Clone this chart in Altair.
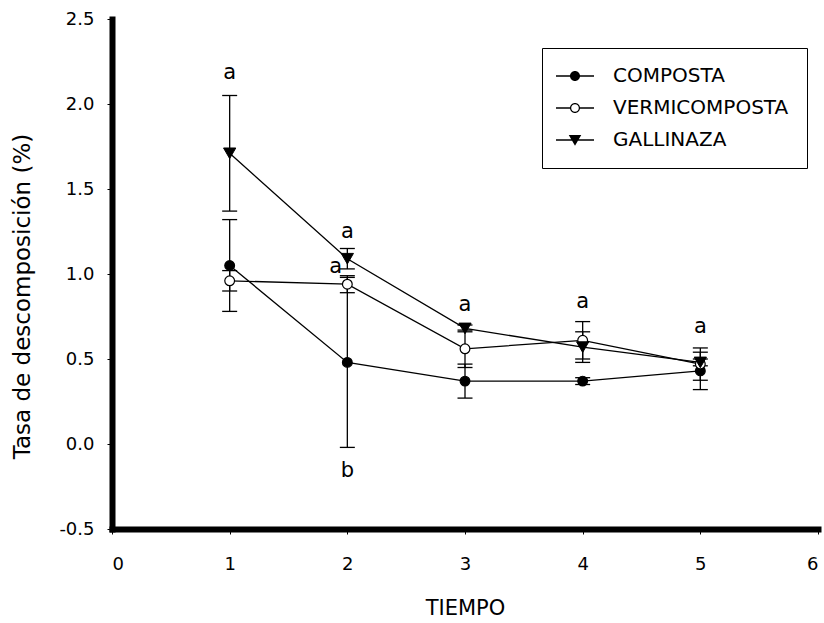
import altair as alt
import pandas as pd

# ---- data ----
tiempo = [1, 2, 3, 4, 5]
series = ["COMPOSTA", "VERMICOMPOSTA", "GALLINAZA"]

composta = [1.05, 0.48, 0.37, 0.37, 0.43]
composta_err = [0.27, 0.50, 0.10, 0.02, 0.11]
vermi = [0.96, 0.94, 0.56, 0.61, 0.47]
vermi_err = [0.06, 0.05, 0.11, 0.11, 0.095]
gallinaza = [1.71, 1.09, 0.68, 0.57, 0.48]
gallinaza_err = [0.34, 0.06, 0.02, 0.09, 0.02]

letters = ["a", "a", "a", "b", "a", "a", "a"]
letters_x = [1, 1.9, 2, 2, 3, 4, 5]
letters_y = [2.18, 1.04, 1.25, -0.16, 0.82, 0.835, 0.69]

x_ticks = [0, 1, 2, 3, 4, 5, 6]
y_ticks = [-0.5, 0.0, 0.5, 1.0, 1.5, 2.0, 2.5]

# legend glyphs: a short line with the series marker (filled shapes only)
legend_paths = [
    "M-3.8,-0.13H3.8V0.13H-3.8Z M1,0A1,1,0,1,1,-1,0A1,1,0,1,1,1,0Z",
    "M-3.8,-0.13H-0.9V0.13H-3.8Z M0.9,-0.13H3.8V0.13H0.9Z "
    "M1,0A1,1,0,1,1,-1,0A1,1,0,1,1,1,0Z M0.76,0A0.76,0.76,0,1,0,-0.76,0A0.76,0.76,0,1,0,0.76,0Z",
    "M-3.8,-0.13H3.8V0.13H-3.8Z M-1.25,-1L1.25,-1L0,1.15Z",
]

# ---- table ----
rows = []
for name, vals, errs in [("COMPOSTA", composta, composta_err),
                         ("VERMICOMPOSTA", vermi, vermi_err),
                         ("GALLINAZA", gallinaza, gallinaza_err)]:
    for t, v, e in zip(tiempo, vals, errs):
        rows.append({"serie": name, "tiempo": t, "valor": v,
                     "lo": v - e, "hi": v + e})
df = pd.DataFrame(rows)
df_letters = pd.DataFrame({"t": letters_x, "v": letters_y, "txt": letters})

FONT = "DejaVu Sans"
YTITLE = "Tasa de descomposición (%)"

xscale = alt.Scale(domain=[0, 6], nice=False)
yscale = alt.Scale(domain=[-0.5, 2.5], nice=False, zero=False)


def xch(field):
    return alt.X(field, type="quantitative", scale=xscale, title="TIEMPO",
                 axis=alt.Axis(values=x_ticks, format="d"))


def ych(field):
    return alt.Y(field, type="quantitative", scale=yscale, title=YTITLE,
                 axis=alt.Axis(
                     values=y_ticks,
                     labelExpr="datum.value < 0 ? '-' + format(-datum.value, '.1f') : format(datum.value, '.1f')"))


base = alt.Chart(df)

rules = base.mark_rule(color="black", strokeWidth=1.3).encode(
    x=xch("tiempo"), y=ych("lo"), y2="hi:Q")

caps = base.transform_fold(["lo", "hi"], as_=["k", "cap"]).mark_tick(
    orient="horizontal", size=15, thickness=1.3, color="black", opacity=1
).encode(x=xch("tiempo"), y=ych("cap"))

lines = base.mark_line(color="black", strokeWidth=1.3).encode(
    x=xch("tiempo"), y=ych("valor"), detail="serie:N")

pts_c = base.transform_filter(alt.datum.serie == "COMPOSTA").mark_point(
    shape="circle", size=95, fill="black", stroke="black", strokeWidth=1.2,
    opacity=1, filled=True).encode(x=xch("tiempo"), y=ych("valor"))

pts_v = base.transform_filter(alt.datum.serie == "VERMICOMPOSTA").mark_point(
    shape="circle", size=95, fill="white", stroke="black", strokeWidth=1.2,
    opacity=1).encode(x=xch("tiempo"), y=ych("valor"))

pts_g = base.transform_filter(alt.datum.serie == "GALLINAZA").mark_point(
    shape="triangle-down", size=150, fill="black", stroke="black",
    strokeWidth=1.0, opacity=1, filled=True).encode(
    x=xch("tiempo"), y=ych("valor"))

legend_layer = base.transform_filter(alt.datum.tiempo == 1).mark_point(
    size=100, opacity=0, filled=True, fill="black", strokeWidth=0).encode(
    x=xch("tiempo"), y=ych("valor"),
    shape=alt.Shape(
        "serie:N", scale=alt.Scale(domain=series, range=legend_paths),
        legend=alt.Legend(
            title=None, orient="none", legendX=430, legendY=29, padding=18,
            strokeColor="black", rowPadding=12, labelFontSize=20,
            labelFont=FONT, labelOffset=28, symbolOffset=5, labelColor="black",
            labelLimit=400, symbolOpacity=1, symbolFillColor="black",
            symbolStrokeWidth=0,
        )),
)

text = alt.Chart(df_letters).mark_text(
    fontSize=21, font=FONT, color="black", baseline="middle", align="center"
).encode(x=xch("t"), y=ych("v"), text="txt:N")

chart = alt.layer(rules, caps, lines, pts_c, pts_v, pts_g, legend_layer, text).properties(
    width=706, height=510,
    padding={"left": 112, "top": 19, "right": 6, "bottom": 94},
    autosize=alt.AutoSizeParams(type="none"),
).configure_view(stroke=None).configure_axis(
    grid=False, domainColor="black", domainWidth=6, domainCap="square",
    tickColor="black", tickWidth=1, tickSize=5,
    labelFont=FONT, labelFontSize=18, labelColor="black",
    titleFont=FONT, titleColor="black", titleFontWeight="normal",
).configure_axisX(
    labelPadding=21, titleFontSize=21, titleY=79, titleBaseline="middle"
).configure_axisY(
    labelPadding=13, titleFontSize=23, titleX=-90, titleY=277,
    titleBaseline="middle")

chart.save("out.html", embed_options={"renderer": "svg", "actions": False})
